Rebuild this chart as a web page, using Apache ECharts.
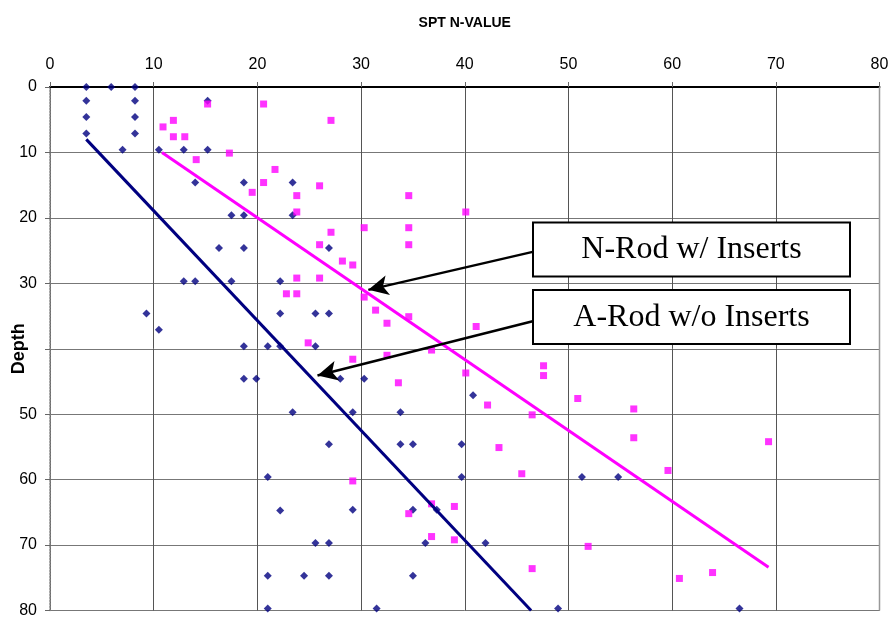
<!DOCTYPE html>
<html>
<head>
<meta charset="utf-8">
<title>SPT N-Value vs Depth</title>
<script src="https://cdn.jsdelivr.net/npm/echarts@6/dist/echarts.min.js"></script>
<style>
  html, body { margin: 0; padding: 0; background: #fff; }
  #chart { width: 891px; height: 618px; }
</style>
</head>
<body>
<div id="chart"></div>
<script>
// A-Rod without inserts: [N-value, depth]
const aRodPoints = [
  [3.5,0],[5.9,0],[8.2,0],
  [3.5,2.1],[8.2,2.1],[15.2,2.1],
  [3.5,4.6],[8.2,4.6],
  [3.5,7.1],[8.2,7.1],
  [7.0,9.6],[10.5,9.6],[12.9,9.6],[15.2,9.6],
  [14.0,14.6],[18.7,14.6],[23.4,14.6],
  [17.5,19.6],[18.7,19.6],[23.4,19.6],
  [16.3,24.6],[18.7,24.6],[26.9,24.6],
  [12.9,29.7],[14.0,29.7],[17.5,29.7],[22.2,29.7],
  [9.3,34.6],[22.2,34.6],[25.6,34.6],[26.9,34.6],
  [10.5,37.1],
  [18.7,39.6],[21.0,39.6],[22.2,39.6],[25.6,39.6],
  [18.7,44.6],[19.9,44.6],[28.0,44.6],[30.3,44.6],
  [40.8,47.1],
  [23.4,49.7],[29.2,49.7],[33.8,49.7],
  [26.9,54.6],[33.8,54.6],[35.0,54.6],[39.7,54.6],
  [21.0,59.6],[39.7,59.6],[51.3,59.6],[54.8,59.6],
  [22.2,64.7],[29.2,64.6],[35.0,64.6],[37.3,64.6],
  [25.6,69.7],[26.9,69.7],[36.2,69.7],[42.0,69.7],
  [21.0,74.7],[24.5,74.7],[26.9,74.7],[35.0,74.7],
  [21.0,79.7],[31.5,79.7],[49.0,79.7],[66.5,79.7]
];

// N-Rod with inserts: [N-value, depth]
const nRodPoints = [
  [15.2,2.6],[20.6,2.6],[27.1,5.1],[10.9,6.1],[11.9,5.1],[11.9,7.6],[13.0,7.6],
  [17.3,10.1],[14.1,11.1],[21.7,12.6],[20.6,14.6],[19.5,16.1],[26.0,15.1],
  [23.8,16.6],[23.8,19.1],[34.6,16.6],[40.1,19.1],[30.3,21.5],[34.6,21.5],
  [27.1,22.2],[26.0,24.1],[34.6,24.1],[28.2,26.6],[29.2,27.2],[23.8,29.2],
  [26.0,29.2],[22.8,31.6],[23.8,31.6],[30.3,32.1],[31.4,34.1],[32.5,36.1],
  [34.6,35.1],[41.1,36.6],[24.9,39.1],[36.8,40.2],[29.2,41.6],[32.5,41.0],
  [47.6,42.6],[47.6,44.1],[40.1,43.7],[33.6,45.2],[42.2,48.6],[50.9,47.6],
  [46.5,50.1],[56.3,49.2],[56.3,53.6],[69.3,54.2],[43.3,55.1],[45.5,59.1],
  [59.6,58.6],[29.2,60.2],[36.8,63.7],[39.0,64.1],[34.6,65.2],[36.8,68.7],
  [39.0,69.2],[51.9,70.2],[46.5,73.6],[60.7,75.1],[63.9,74.2]
];

// Trend lines (endpoints)
const aRodTrend = [[3.5,8.0],[46.4,80]];
const nRodTrend = [[10.8,10.0],[69.3,73.4]];

// Callout arrows: [start at box, tip]
const nRodArrow = [[46.55,25.2],[30.7,31.0]];
const aRodArrow = [[46.55,35.8],[25.8,44.1]];

const xTicks = [0,10,20,30,40,50,60,70,80];
const depthTicks = [0,10,20,30,40,50,60,70,80];
// the "40" slot sits behind the Depth title, so it is left blank
const depthTickLabels = ['0','10','20','30','','50','60','70','80'];

const NAVY = '#000080';
const MAGENTA = '#FF00FF';
const labelFont = '"Liberation Sans", Arial, sans-serif';

const chart = echarts.init(document.getElementById('chart'), null, { renderer: 'canvas' });

function arrowLine(pts) {
  return {
    silent: true,
    symbol: ['none', 'arrow'],
    symbolSize: [15, 20],
    lineStyle: { color: '#000', width: 2.5, type: 'solid' },
    label: { show: false },
    data: [[{ coord: pts[0] }, { coord: pts[1] }]]
  };
}

chart.setOption({
  animation: false,
  backgroundColor: '#fff',
  grid: { left: 50, top: 87, right: 11.5, bottom: 7.5, show: false, containLabel: false, outerBoundsMode: 'none' },
  xAxis: {
    type: 'value',
    position: 'top',
    min: xTicks[0],
    max: xTicks[xTicks.length - 1],
    interval: 10,
    name: 'SPT N-VALUE',
    nameLocation: 'middle',
    nameGap: 57,
    nameMoveOverlap: false,
    nameTextStyle: { fontFamily: labelFont, fontWeight: 'bold', fontSize: 14, color: '#000' },
    axisLine: { show: true, lineStyle: { color: '#000', width: 2 } },
    axisTick: { show: true, inside: false, length: 5, lineStyle: { color: '#666' } },
    axisLabel: { fontFamily: labelFont, fontSize: 16, color: '#000', margin: 14 },
    splitLine: { show: true, lineStyle: { color: '#555', width: 1 } }
  },
  yAxis: {
    type: 'value',
    inverse: true,
    min: depthTicks[0],
    max: depthTicks[depthTicks.length - 1],
    interval: 10,
    name: 'Depth',
    nameLocation: 'middle',
    nameGap: 22,
    nameMoveOverlap: false,
    nameTextStyle: { fontFamily: labelFont, fontWeight: 'bold', fontSize: 18, color: '#000' },
    axisLine: { show: true, lineStyle: { color: '#888', width: 1.5, type: 'dotted' } },
    axisTick: { show: true, inside: false, length: 5, lineStyle: { color: '#666' } },
    axisLabel: {
      fontFamily: labelFont, fontSize: 16, color: '#000', margin: 13,
      formatter: function (v) {
        const i = depthTicks.indexOf(v);
        return i >= 0 ? depthTickLabels[i] : '';
      }
    },
    splitLine: { show: true, lineStyle: { color: '#777', width: 1 } }
  },
  graphic: [
    // right frame of the plot area
    { type: 'line', shape: { x1: 879.5, y1: 87, x2: 879.5, y2: 610.5 }, style: { stroke: '#999', lineWidth: 1.5 }, z: 5 },
    // callout boxes
    { type: 'rect', shape: { x: 533, y: 222.5, width: 317, height: 54 },
      style: { fill: '#fff', stroke: '#000', lineWidth: 2 }, z: 20 },
    { type: 'text', x: 691.5, y: 250, z: 21,
      style: { text: 'N-Rod w/ Inserts', fill: '#000', font: '32px "Liberation Serif", "Times New Roman", serif',
               align: 'center', verticalAlign: 'middle' } },
    { type: 'rect', shape: { x: 533, y: 290, width: 317, height: 54 },
      style: { fill: '#fff', stroke: '#000', lineWidth: 2 }, z: 20 },
    { type: 'text', x: 691.5, y: 318, z: 21,
      style: { text: 'A-Rod w/o Inserts', fill: '#000', font: '32px "Liberation Serif", "Times New Roman", serif',
               align: 'center', verticalAlign: 'middle' } }
  ],
  series: [
    {
      name: 'A-Rod w/o Inserts',
      type: 'scatter',
      data: aRodPoints,
      symbol: 'diamond',
      symbolSize: 8,
      itemStyle: { color: NAVY },
      z: 3
    },
    {
      name: 'N-Rod w/ Inserts',
      type: 'scatter',
      data: nRodPoints,
      symbol: 'rect',
      symbolSize: 7,
      itemStyle: { color: MAGENTA },
      z: 3
    },
    {
      name: 'A-Rod trend',
      type: 'line',
      data: aRodTrend,
      symbol: 'none',
      lineStyle: { color: NAVY, width: 3 },
      z: 4,
      markLine: arrowLine(aRodArrow)
    },
    {
      name: 'N-Rod trend',
      type: 'line',
      data: nRodTrend,
      symbol: 'none',
      lineStyle: { color: MAGENTA, width: 3 },
      z: 4,
      markLine: arrowLine(nRodArrow)
    }
  ]
});
</script>
</body>
</html>
